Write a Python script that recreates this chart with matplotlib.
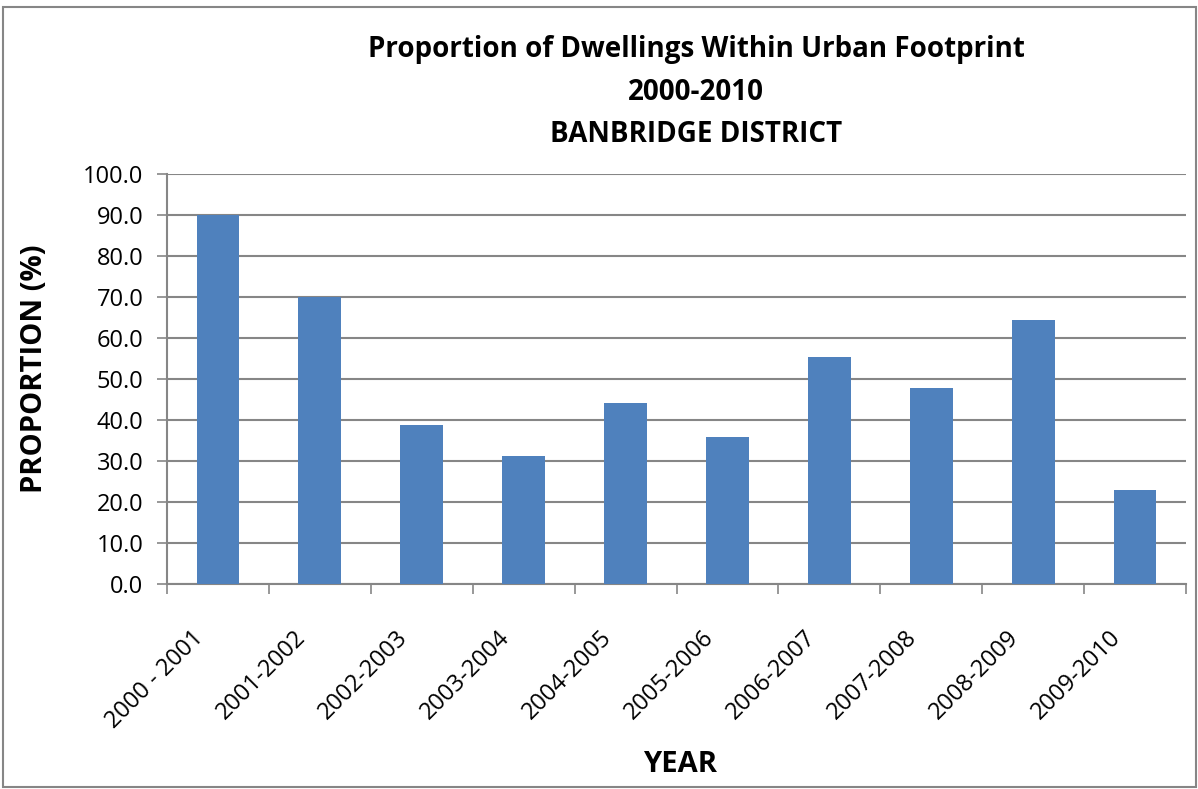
import matplotlib
matplotlib.use("Agg")
import matplotlib.pyplot as plt
from matplotlib.patches import Rectangle
from matplotlib.transforms import ScaledTranslation, blended_transform_factory

categories = ["2000 - 2001", "2001-2002", "2002-2003", "2003-2004", "2004-2005",
              "2005-2006", "2006-2007", "2007-2008", "2008-2009", "2009-2010"]
values = [90.0, 70.0, 38.8, 31.3, 44.2, 35.9, 55.4, 47.9, 64.5, 23.0]
yticks = [0, 10, 20, 30, 40, 50, 60, 70, 80, 90, 100]
title_lines = ["Proportion of Dwellings Within Urban Footprint", "2000-2010", "BANBRIDGE DISTRICT"]

plt.rcParams['font.family'] = ['Open Sans', 'DejaVu Sans']

W, H = 1198, 789
fig = plt.figure(figsize=(W / 100, H / 100), dpi=100)
ax = fig.add_axes([167 / W, 1 - 584 / H, (1186 - 167) / W, (584 - 174) / H])

grey = "#868686"
x = list(range(len(categories)))
ax.bar(x, values, width=0.42, color="#4F81BD", zorder=3)
ax.set_xlim(-0.5, len(categories) - 0.5)
ax.set_ylim(0, 100)
ax.set_yticks(yticks)
ax.set_yticklabels([f"{v:.1f}" for v in yticks], fontsize=17)
ax.yaxis.grid(True, color=grey, linewidth=1.5, zorder=0)
ax.set_axisbelow(True)

# x ticks at category boundaries
ax.set_xticks([i - 0.5 for i in range(len(categories) + 1)])
ax.set_xticklabels([])
ax.tick_params(axis="x", length=7, width=1.2, color=grey)
ax.tick_params(axis="y", length=7, width=1.2, color=grey, pad=10)

# category labels (rotated), positioned through the x data scale
trans = blended_transform_factory(ax.transData, ax.transAxes) + \
    ScaledTranslation(-26 / 100, -42 / 100, fig.dpi_scale_trans)
for xi, cat in zip(x, categories):
    ax.text(xi, 0, cat, transform=trans, rotation=45, ha="right", va="top",
            rotation_mode="anchor", fontsize=17, clip_on=False)

for s in ["top", "right"]:
    ax.spines[s].set_visible(False)
for s in ["left", "bottom"]:
    ax.spines[s].set_color(grey)
    ax.spines[s].set_linewidth(1.5)

# titles
ys = [50, 92, 134]
for t, yy in zip(title_lines, ys):
    fig.text(696 / W, 1 - yy / H, t, ha="center", va="center", fontsize=20, fontweight="bold")

fig.text(35 / W, 1 - 369 / H, "PROPORTION (%)", rotation=90, ha="center", va="center",
         fontsize=21, fontweight="bold")
fig.text(680 / W, 1 - 764 / H, "YEAR", ha="center", va="center", fontsize=21, fontweight="bold")

fig.patches.append(Rectangle((3 / W, 1 - 787 / H), 1193 / W, 780 / H, transform=fig.transFigure,
                             fill=False, edgecolor=grey, linewidth=1.5))

fig.savefig("out.png", dpi=100)
